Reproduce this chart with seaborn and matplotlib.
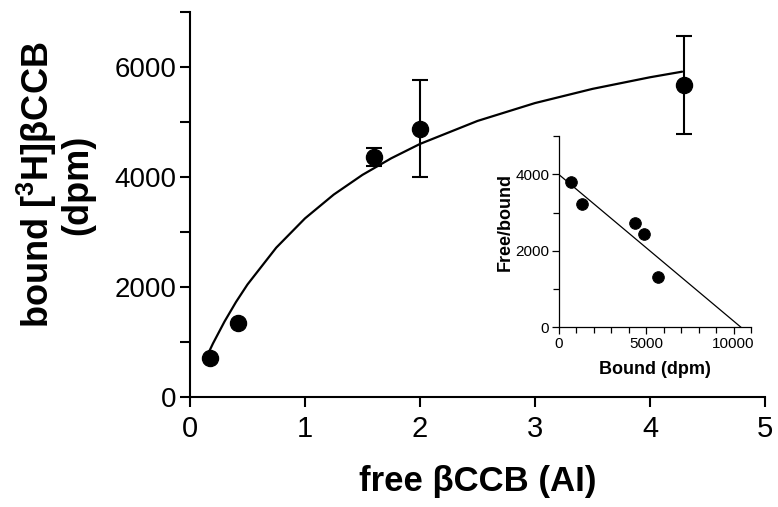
import numpy as np
import pandas as pd
import matplotlib
matplotlib.use("Agg")
import matplotlib.pyplot as plt
import seaborn as sns
from matplotlib.ticker import FixedLocator

# ---- main saturation data ----
free_ccb = [0.17, 0.42, 1.60, 2.00, 4.30]
bound_dpm = [700, 1345, 4353, 4867, 5667]
err_low = [0, 0, 153, 878, 896]
err_high = [0, 0, 163, 891, 897]

# fitted curve
curve_x = [0.17, 0.2, 0.3, 0.4, 0.5, 0.75, 1.0, 1.25, 1.5, 1.75, 2.0, 2.5, 3.0, 3.5, 4.0, 4.28]
curve_y = [836, 968, 1365, 1721, 2040, 2709, 3241, 3674, 4033, 4334, 4595, 5013, 5338, 5596, 5807, 5909]

x_ticks = [0, 1, 2, 3, 4, 5]
y_major = [0, 2000, 4000, 6000]
y_minor = [1000, 3000, 5000, 7000]

# ---- inset (Scatchard) data ----
sc_bound = [687, 1335, 4350, 4885, 5667]
sc_ratio = [3800, 3210, 2715, 2436, 1313]
sc_line_x = [0, 10430]
sc_line_y = [3990, 0]
in_x_major = [0, 5000, 10000]
in_x_minor = [1000, 2000, 3000, 4000, 6000, 7000, 8000, 9000, 11000]
in_y_major = [0, 2000, 4000]
in_y_minor = [1000, 3000, 5000]

sns.set_theme(style="ticks")
plt.rcParams['font.family'] = ['Liberation Sans', 'DejaVu Sans']
plt.rcParams['mathtext.fontset'] = 'custom'
plt.rcParams['mathtext.rm'] = 'Liberation Sans'
plt.rcParams['mathtext.bf'] = 'Liberation Sans:bold'
for k in ['text.color', 'axes.labelcolor', 'xtick.color', 'ytick.color', 'axes.edgecolor']:
    plt.rcParams[k] = 'black'

main_df = pd.DataFrame({"free": free_ccb, "bound": bound_dpm})
curve_df = pd.DataFrame({"x": curve_x, "y": curve_y})

fig = plt.figure(figsize=(7.78, 5.07), dpi=100)
ax = fig.add_axes([0.2442, 0.2176, 0.739, 0.7594])

sns.lineplot(data=curve_df, x="x", y="y", color="black", lw=1.6, ax=ax, estimator=None)

idx = [i for i in range(len(free_ccb)) if err_low[i] > 0 or err_high[i] > 0]
ax.errorbar([free_ccb[i] for i in idx], [bound_dpm[i] for i in idx],
            yerr=[[err_low[i] for i in idx], [err_high[i] for i in idx]],
            fmt="none", ecolor="black", elinewidth=1.5, capsize=6, capthick=1.5, clip_on=False)
sns.scatterplot(data=main_df, x="free", y="bound", color="black", edgecolor="black",
                s=135, ax=ax, zorder=5, clip_on=False)

ax.set_xlim(0, 5)
ax.set_ylim(0, 7000)
ax.xaxis.set_major_locator(FixedLocator(x_ticks))
ax.yaxis.set_major_locator(FixedLocator(y_major))
ax.yaxis.set_minor_locator(FixedLocator(y_minor))
ax.set_xticklabels([str(v) for v in x_ticks])
ax.set_yticklabels([str(v) for v in y_major])
ax.tick_params(axis="x", which="major", length=7, width=1.5, labelsize=21, pad=6, color="black")
ax.tick_params(axis="y", which="both", length=7, width=1.5, labelsize=20, pad=3, color="black")
for s in ["left", "bottom"]:
    ax.spines[s].set_linewidth(1.5)
    ax.spines[s].set_color("black")
sns.despine(ax=ax)

ax.set_xlabel("free βCCB (AI)", fontsize=25, fontweight="bold", labelpad=16)
ax.set_ylabel("bound [$^{\\mathbf{3}}$H]βCCB\n(dpm)", fontsize=26, fontweight="bold", linespacing=1.05)
ax.yaxis.set_label_coords(-0.165, 0.55)

# ---- inset ----
axin = fig.add_axes([0.7185, 0.3544, 0.2468, 0.3774])
axin.set_facecolor("none")
sc_df = pd.DataFrame({"b": sc_bound, "r": sc_ratio})
line_df = pd.DataFrame({"x": sc_line_x, "y": sc_line_y})
sns.lineplot(data=line_df, x="x", y="y", color="black", lw=0.9, ax=axin, estimator=None)
sns.scatterplot(data=sc_df, x="b", y="r", color="black", edgecolor="black", s=70, ax=axin, zorder=5)
axin.set_xlim(0, 11000)
axin.set_ylim(0, 5000)
axin.xaxis.set_major_locator(FixedLocator(in_x_major))
axin.xaxis.set_minor_locator(FixedLocator(in_x_minor))
axin.yaxis.set_major_locator(FixedLocator(in_y_major))
axin.yaxis.set_minor_locator(FixedLocator(in_y_minor))
axin.set_xticklabels([str(v) for v in in_x_major])
axin.set_yticklabels([str(v) for v in in_y_major])
axin.tick_params(axis="both", which="major", length=5, width=0.9, labelsize=11, pad=2, color="black")
axin.tick_params(axis="both", which="minor", length=4, width=0.9, color="black")
for s in ["left", "bottom"]:
    axin.spines[s].set_linewidth(0.9)
    axin.spines[s].set_color("black")
sns.despine(ax=axin)
axin.set_xlabel("Bound (dpm)", fontsize=13, fontweight="bold", labelpad=7)
axin.set_ylabel("Free/bound", fontsize=13, fontweight="bold")
axin.yaxis.set_label_coords(-0.235, 0.55)

fig.savefig("out.png", dpi=100)
